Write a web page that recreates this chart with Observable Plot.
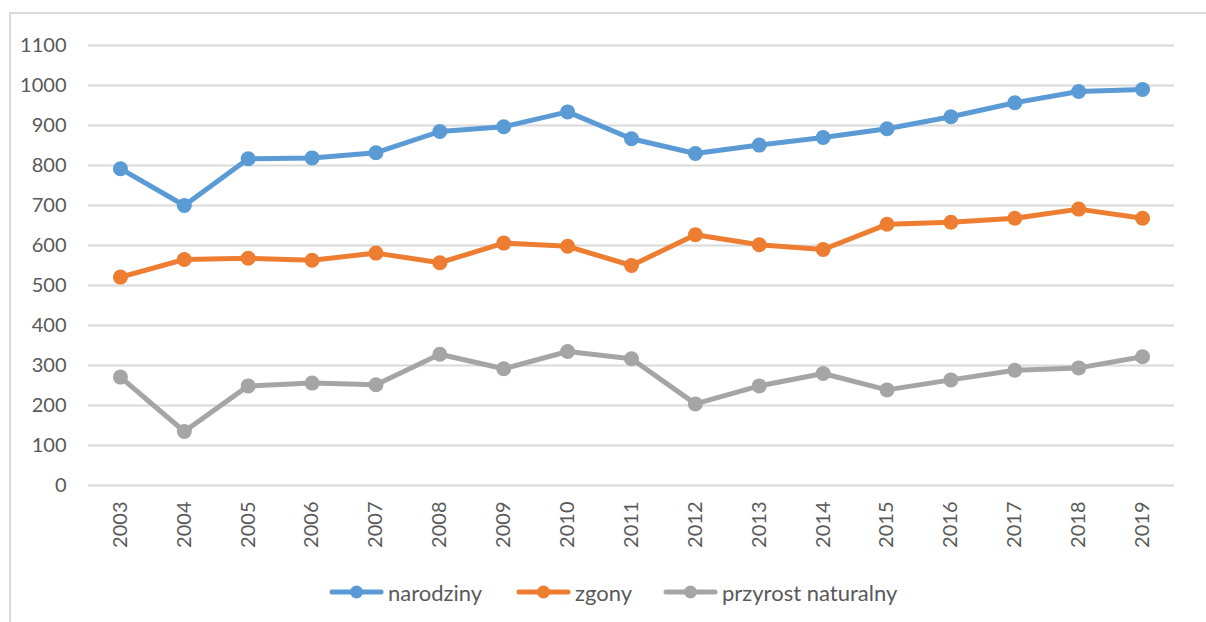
<!DOCTYPE html>
<html>
<head>
<meta charset="utf-8">
<script src="https://cdn.jsdelivr.net/npm/d3@7"></script>
<script src="https://cdn.jsdelivr.net/npm/@observablehq/plot@0.6"></script>
<style>
  html, body { margin: 0; padding: 0; background: #fff; }
  #wrap { position: relative; width: 1206px; height: 622px; overflow: hidden; font-family: Lato, "Open Sans", sans-serif; }
  #frame { position: absolute; left: 9px; top: 12px; width: 1300px; height: 700px; border-top: 2px solid #d9d9d9; border-left: 2px solid #d9d9d9; box-sizing: border-box; }
  #chart { position: absolute; left: 0; top: 0; }
  #legend { position: absolute; left: 0; width: 1206px; top: 577px; height: 30px; }
  .item { position: absolute; top: 0; display: flex; align-items: center; height: 30px; color: #595959; font-size: 22px; }
  .item svg { margin-right: 4px; }
</style>
</head>
<body>
<div id="wrap">
  <div id="frame"></div>
  <div id="chart"></div>
  <div id="legend"></div>
</div>
<script>
const years = ["2003","2004","2005","2006","2007","2008","2009","2010","2011","2012","2013","2014","2015","2016","2017","2018","2019"];
const seriesNames = ["narodziny", "zgony", "przyrost naturalny"];
const narodziny = [792, 700, 817, 819, 832, 885, 897, 934, 867, 830, 851, 870, 892, 922, 957, 985, 990];
const zgony = [521, 565, 568, 563, 581, 557, 606, 598, 550, 627, 602, 590, 653, 658, 668, 691, 668];
const przyrost = [271, 135, 249, 256, 252, 328, 292, 335, 317, 204, 249, 280, 239, 264, 288, 294, 322];
const yTicks = [0, 100, 200, 300, 400, 500, 600, 700, 800, 900, 1000, 1100];
const colors = ["#5b9bd5", "#ed7d31", "#a5a5a5"];

const valuesBySeries = [narodziny, zgony, przyrost];
const data = [];
seriesNames.forEach((s, i) => {
  years.forEach((y, j) => data.push({series: s, year: y, value: valuesBySeries[i][j]}));
});

const plot = Plot.plot({
  width: 1206,
  height: 560,
  marginLeft: 88,
  marginRight: 32,
  marginTop: 45,
  marginBottom: 75,
  style: {fontFamily: "Lato, 'Open Sans', sans-serif", fontSize: "20px", color: "#595959", background: "transparent"},
  x: {type: "point", domain: years, padding: 0.5, round: false, label: null},
  y: {domain: [0, 1100], label: null},
  color: {domain: seriesNames, range: colors},
  marks: [
    Plot.gridY(yTicks, {stroke: "#d9d9d9", strokeOpacity: 1, strokeWidth: 2}),
    Plot.axisY(yTicks, {tickSize: 0, tickPadding: 22, label: null, fontSize: 20, tickFormat: d => String(d)}),
    Plot.axisX({tickSize: 0, tickPadding: 16, tickRotate: -90, label: null, fontSize: 20}),
    Plot.line(data, {x: "year", y: "value", z: "series", stroke: "series", strokeWidth: 5, strokeLinejoin: "round", strokeLinecap: "round"}),
    Plot.dot(data, {x: "year", y: "value", fill: "series", r: 7.5, stroke: "none"})
  ]
});
document.getElementById("chart").appendChild(plot);

const legendPos = [329, 516, 663];
const legend = document.getElementById("legend");
seriesNames.forEach((s, i) => {
  const item = document.createElement("div");
  item.className = "item";
  item.style.left = legendPos[i] + "px";
  item.innerHTML = `<svg width="55" height="20"><line x1="3" y1="10" x2="52" y2="10" stroke="${colors[i]}" stroke-width="5" stroke-linecap="round"/><circle cx="27.5" cy="10" r="6.5" fill="${colors[i]}"/></svg><span>${s}</span>`;
  legend.appendChild(item);
});
</script>
</body>
</html>
